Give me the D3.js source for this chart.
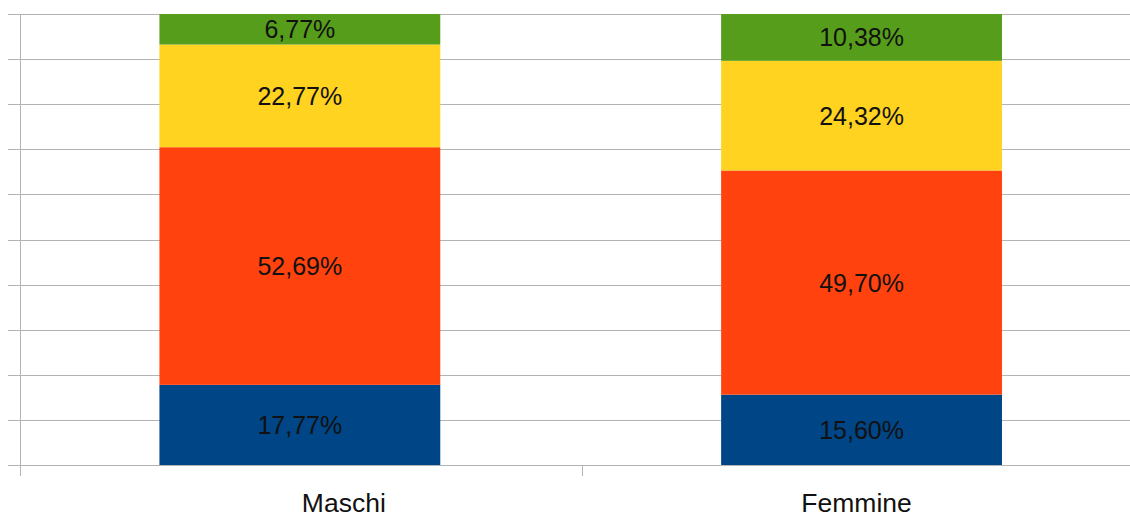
<!DOCTYPE html>
<html>
<head>
<meta charset="utf-8">
<script src="https://cdn.jsdelivr.net/npm/d3@7"></script>
<style>
  html, body { margin: 0; padding: 0; background: #ffffff; overflow: hidden; }
  svg { display: block; }
  text { font-family: "Liberation Sans", Arial, sans-serif; }
</style>
</head>
<body>
<svg id="chart" width="1130" height="513"></svg>
<script>
// Categories and stacked shares (percent), bottom to top
const categories = ["Maschi", "Femmine"];
const seriesNames = ["s1", "s2", "s3", "s4"];
const s1 = [17.77, 15.60];
const s2 = [52.69, 49.70];
const s3 = [22.77, 24.32];
const s4 = [6.77, 10.38];
const seriesColors = ["#004586", "#ff420e", "#ffd320", "#579d1c"];
const yTicks = [0, 10, 20, 30, 40, 50, 60, 70, 80, 90, 100];

const rows = categories.map((c, i) => ({ cat: c, s1: s1[i], s2: s2[i], s3: s3[i], s4: s4[i] }));
const stacked = d3.stack().keys(seriesNames)(rows);

const svg = d3.select("#chart");
const axisLeftX = 20, plotRight = 1143.4, yBottom = 465, yTop = 14;

const x = d3.scaleBand().domain(categories).range([axisLeftX, plotRight])
  .paddingInner(0.5).paddingOuter(0.25);
const y = d3.scaleLinear().domain([0, 100]).range([yBottom, yTop]);
const step = x.step();

const gridColor = "#b3b3b3";

// horizontal grid lines with short outer ticks on the left
svg.append("g").selectAll("line").data(yTicks).join("line")
  .attr("x1", 8).attr("x2", 1130)
  .attr("y1", d => Math.round(y(d)) + 0.5).attr("y2", d => Math.round(y(d)) + 0.5)
  .attr("stroke", gridColor).attr("stroke-width", 1);

// vertical axis line
svg.append("line")
  .attr("x1", axisLeftX + 0.5).attr("x2", axisLeftX + 0.5)
  .attr("y1", y(100)).attr("y2", yBottom + 11)
  .attr("stroke", gridColor).attr("stroke-width", 1);

// category boundary ticks below the axis
const boundaries = categories.map((c, i) => axisLeftX + i * step);
svg.append("g").selectAll("line").data(boundaries).join("line")
  .attr("x1", d => Math.round(d) + 0.5).attr("x2", d => Math.round(d) + 0.5)
  .attr("y1", yBottom).attr("y2", yBottom + 11)
  .attr("stroke", gridColor).attr("stroke-width", 1);

// stacked bars
const fmt = v => v.toFixed(2).replace(".", ",") + "%";
stacked.forEach((layer, li) => {
  const g = svg.append("g");
  g.selectAll("rect").data(layer).join("rect")
    .attr("x", d => x(d.data.cat) - 1)
    .attr("width", x.bandwidth())
    .attr("y", d => y(d[1]))
    .attr("height", d => y(d[0]) - y(d[1]))
    .attr("fill", seriesColors[li]);
  g.selectAll("text").data(layer).join("text")
    .attr("x", d => x(d.data.cat) - 1 + x.bandwidth() / 2)
    .attr("y", d => (y(d[0]) + y(d[1])) / 2 + 9)
    .attr("text-anchor", "middle")
    .attr("font-size", 25)
    .attr("fill", "#111111")
    .text(d => fmt(d[1] - d[0]));
});

// category labels, set along the bottom edge
const labelShift = [44, -5];
svg.append("g").selectAll("text").data(categories).join("text")
  .attr("x", (d, i) => x(d) - 1 + x.bandwidth() / 2 + labelShift[i])
  .attr("y", 512)
  .attr("text-anchor", "middle")
  .attr("font-size", 26.5)
  .attr("fill", "#111111")
  .text(d => d);
</script>
</body>
</html>
